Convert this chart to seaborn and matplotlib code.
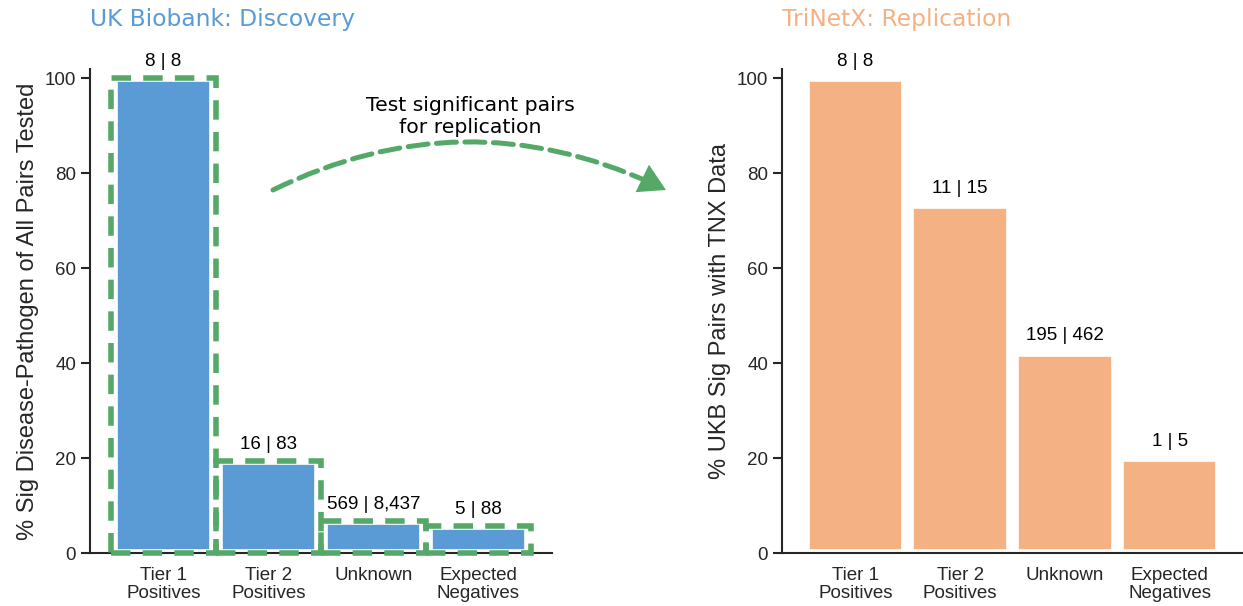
import matplotlib
matplotlib.use("Agg")
import numpy as np
import matplotlib.pyplot as plt
import seaborn as sns
import pandas as pd
from matplotlib.patches import Rectangle, FancyArrowPatch

# data
categories = ["Tier 1\nPositives", "Tier 2\nPositives", "Unknown", "Expected\nNegatives"]
ukb_pct = [100.0, 19.3, 6.7, 5.7]
ukb_sig = [8, 16, 569, 5]
ukb_tested = [8, 83, 8437, 88]
tnx_pct = [100.0, 73.3, 42.2, 20.0]
tnx_found = [8, 11, 195, 1]
tnx_sig = [8, 15, 462, 5]

blue = "#5b9bd5"
orange = "#f4b183"
green = "#55a868"

sns.set_theme(style="ticks")
plt.rcParams["font.family"] = ["Liberation Sans", "DejaVu Sans"]

fig = plt.figure(figsize=(12.43, 6.06), dpi=100)
W, H = 1243, 606
ax1 = fig.add_axes([90 / W, 53 / H, 462 / W, 484 / H])
ax2 = fig.add_axes([782 / W, 53 / H, 461 / W, 484 / H])

df_ukb = pd.DataFrame({"group": categories, "pct": ukb_pct})
df_tnx = pd.DataFrame({"group": categories, "pct": tnx_pct})

sns.barplot(data=df_ukb, x="group", y="pct", color=blue, saturation=1,
            width=0.95, edgecolor="white", linewidth=5.5, ax=ax1)
sns.barplot(data=df_tnx, x="group", y="pct", color=orange, saturation=1,
            width=0.95, edgecolor="white", linewidth=5.5, ax=ax2)

# dashed outline around the discovery bars
for i, v in enumerate(ukb_pct):
    ax1.add_patch(Rectangle((i - 0.5, 0), 1.0, v, fill=False, edgecolor=green,
                            lw=4, linestyle=(0, (3.5, 2.2)), zorder=4, clip_on=False))

for i, (v, a, b) in enumerate(zip(ukb_pct, ukb_sig, ukb_tested)):
    ax1.annotate(f"{a:,} | {b:,}", (i, v), xytext=(0, 6), textcoords="offset points",
                 ha="center", va="bottom", fontsize=13.5, color="black")
for i, (v, a, b) in enumerate(zip(tnx_pct, tnx_found, tnx_sig)):
    ax2.annotate(f"{a:,} | {b:,}", (i, v), xytext=(0, 6), textcoords="offset points",
                 ha="center", va="bottom", fontsize=13.5, color="black")

for ax in (ax1, ax2):
    ax.set_xlim(-0.7, 3.7)
    ax.set_ylim(0, 102)
    ax.set_yticks([0, 20, 40, 60, 80, 100])
    ax.set_xlabel("")
    ax.tick_params(axis="y", length=6.5, width=1.5, labelsize=13.5, colors="#262626")
    ax.tick_params(axis="x", length=0, labelsize=13.5, pad=10, colors="#262626")
    for lab in ax.get_xticklabels():
        lab.set_linespacing(1.05)
    sns.despine(ax=ax)
    for s in ("left", "bottom"):
        ax.spines[s].set_linewidth(1.5)
        ax.spines[s].set_color("#262626")

ax1.set_ylabel("% Sig Disease-Pathogen of All Pairs Tested", fontsize=17)
ax2.set_ylabel("% UKB Sig Pairs with TNX Data", fontsize=17)

ax1.set_title("UK Biobank: Discovery", loc="left", pad=31, fontsize=16.8,
              color=blue, family="DejaVu Sans")
ax2.set_title("TriNetX: Replication", loc="left", pad=31, fontsize=16.8,
              color=orange, family="DejaVu Sans")

# curved dashed arrow between the panels (pixel positions -> figure fraction)
start = np.array([273.0, 190.0])
tip = np.array([666.0, 190.0])
ang = np.deg2rad(26)
direction = np.array([np.cos(ang), np.sin(ang)])  # screen coords, y down


def to_fig(p):
    return (p[0] / W, 1 - p[1] / H)


# same arc as start->tip, cut short so the line hides under the head
curve = FancyArrowPatch(to_fig(start), to_fig(tip), transform=fig.transFigure,
                        connectionstyle="arc3,rad=-0.245", arrowstyle="-",
                        lw=3.6, linestyle=(0, (4, 1.7)), color=green,
                        shrinkA=0, shrinkB=10, capstyle="round")
fig.patches.append(curve)
head = FancyArrowPatch(to_fig(tip - direction * 4), to_fig(tip), transform=fig.transFigure,
                       arrowstyle="-|>,head_length=1.9,head_width=1.1", mutation_scale=10,
                       lw=0, color=green, shrinkA=0, shrinkB=0)
fig.patches.append(head)

fig.text(470 / W, 1 - 116.5 / H, "Test significant pairs\nfor replication",
         ha="center", va="center", fontsize=14.7, family="DejaVu Sans", color="black")

fig.savefig("out.png", dpi=100)
